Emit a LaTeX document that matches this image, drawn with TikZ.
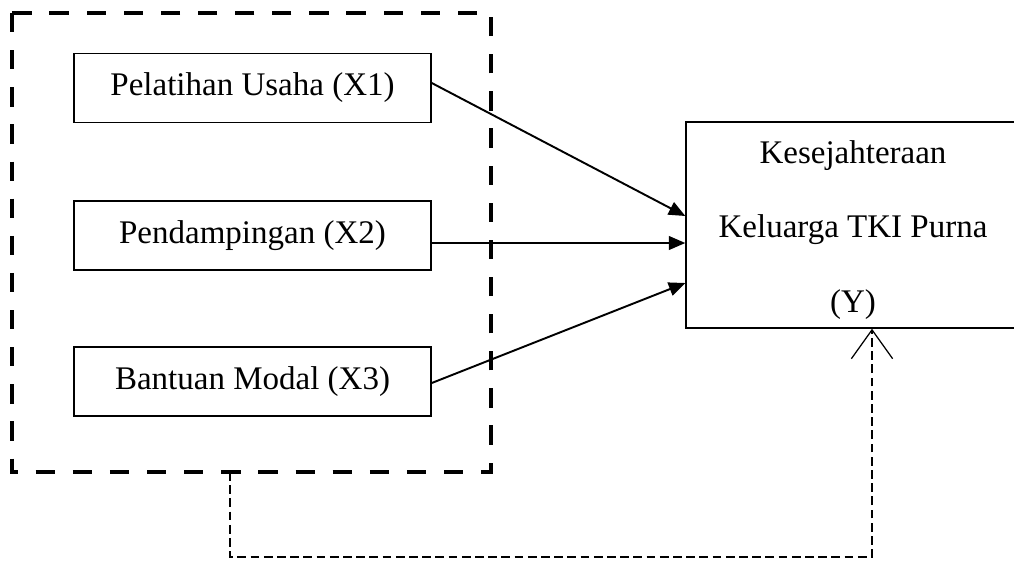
\documentclass[tikz,border=0pt]{standalone}
\usepackage{fontspec}
\setmainfont{Liberation Serif}
\usetikzlibrary{calc,arrows.meta}

\begin{document}
\begin{tikzpicture}[x=0.3636pt,y=-0.3636pt,
    varbox/.style={draw,line width=0.55pt,minimum width=129.8pt,minimum height=25pt,
        inner sep=0pt,font=\fontsize{12}{14}\selectfont},
    ybox/.style={draw,line width=0.55pt,minimum width=121.4pt,minimum height=74.9pt,
        inner sep=0pt,align=center,font=\fontsize{12}{27}\selectfont},
    panah/.style={line width=0.7pt,-{Triangle[length=6pt,width=5pt]}},
    grup/.style={line width=1.45pt,dash pattern=on 7pt off 6.5pt},
    balik/.style={line width=0.45pt,dash pattern=on 3.2pt off 1.6pt,
        -{Straight Barb[length=10.5pt,width=15pt]}}]

    \useasboundingbox (0,0) rectangle (1014,562);

    \node[ybox] (Y) at (853,225) {\rule{0pt}{12pt}Kesejahteraan\\Keluarga TKI Purna\\(Y)};

    \foreach \n/\y/\t in {X1/88/Pelatihan Usaha (X1),X2/235.5/Pendampingan (X2),X3/381.5/Bantuan Modal (X3)} {
    \node[varbox] (\n) at (252.5,\y) {\t};}

    % kotak putus-putus
    \coordinate (G1) at (12,13);
    \coordinate (G2) at (491,472);
    \draw[grup] (G1) rectangle (G2);

    \draw[panah] ($(X1.east)+(0,-5)$)--($(Y.west)+(0,-9)$);
    \draw[panah] ($(X2.east)+(0,7.5)$)--($(Y.west)+(0,18)$);
    \draw[panah] ($(X3.east)+(0,1.5)$)--($(Y.west)+(0,58)$);

    \coordinate (K) at (230,472);
    \draw[balik] (K)--++(0,85) -| ($(Y.south)+(19,0)$);

    \end{tikzpicture}
\end{document}
